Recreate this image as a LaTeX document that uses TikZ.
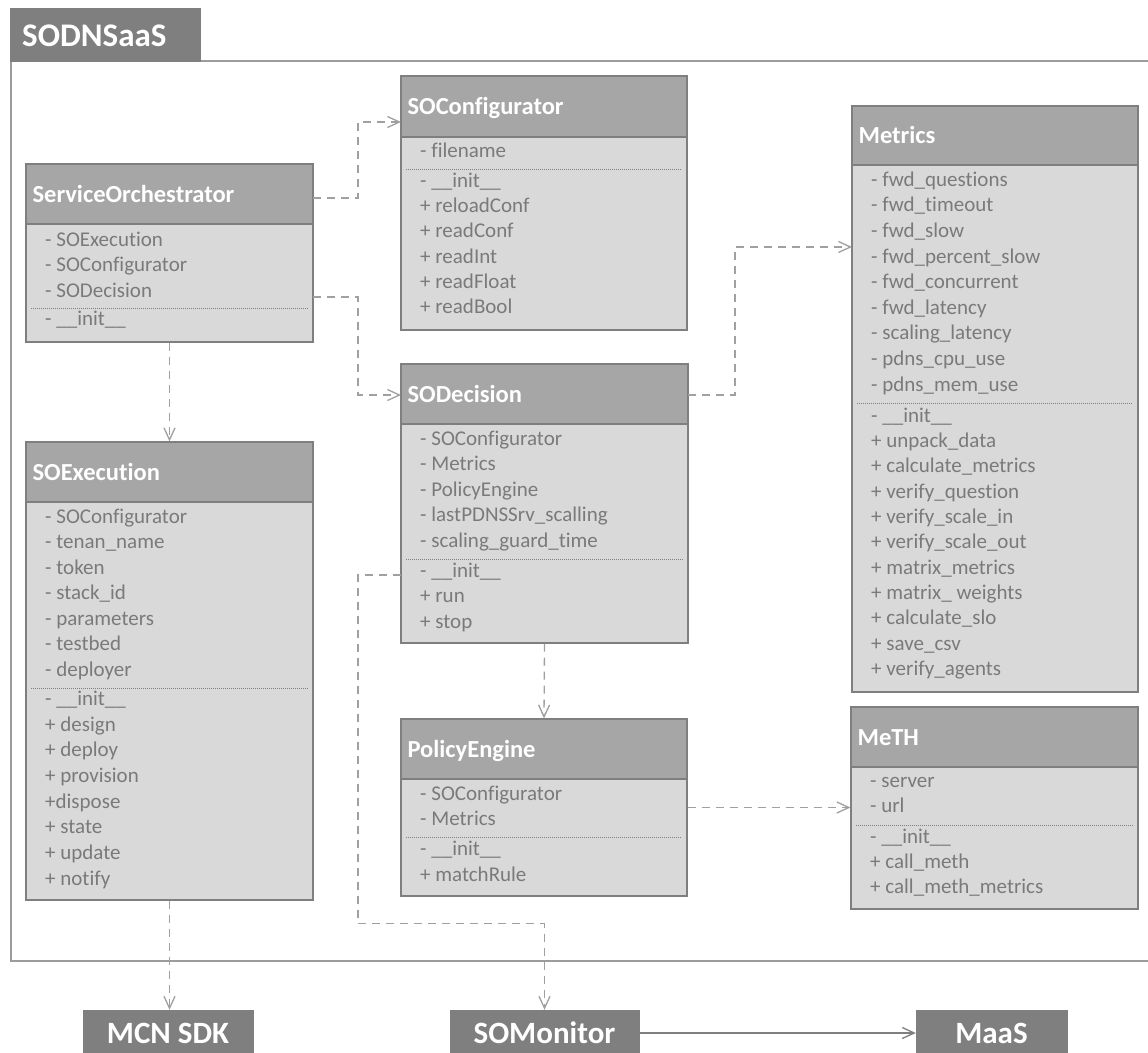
\documentclass[tikz,border=0pt]{standalone}
\usepackage{fontspec}
\setmainfont{Carlito}[Ligatures={NoCommon,NoContextual},Contextuals=NoAlternate]
\usetikzlibrary{arrows.meta,fit,calc}
\definecolor{hdrfill}{HTML}{A6A6A6}
\definecolor{bodyfill}{HTML}{D9D9D9}
\definecolor{boxline}{HTML}{7F7F7F}
\definecolor{txtgray}{HTML}{7A7A7A}
\definecolor{darkfill}{HTML}{7F7F7F}
\definecolor{framegray}{HTML}{9C9C9C}
\definecolor{depgray}{HTML}{A0A0A0}

% class box: name, x1, y1, x2, header bottom, y2, title
\newcommand\classbox[7]{%
  \node[boxbody, fit={(#2,#3) (#4,#6)}] (#1) {};
  \node[boxhead, fit={(#2,#3) (#4,#5)}] (#1-h) {};
  \node[headtext] (#1-t) at ($(#1-h.west)+(7,8)$) {#7};
}
% compartment separator: x1, x2, y
\newcommand\compsep[3]{\draw[sepline] (#1+5,#3) -- (#2-5,#3);}
% list of members: prefix, x, first y, step, items
\newcommand\members[5]{%
  \foreach \t [count=\i] in {#5}
    \node[item] (#1-\i) at ({#2},{#3+(\i-1)*#4}) {\t};
}

\begin{document}
\begin{tikzpicture}[x=1pt,y=-1pt,
  boxbody/.style={draw=boxline, fill=bodyfill, line width=1.2pt, inner sep=0pt},
  boxhead/.style={draw=boxline, fill=hdrfill, line width=1.2pt, inner sep=0pt},
  headtext/.style={text=white, font=\fontsize{24.5}{28}\selectfont\bfseries, inner sep=0pt, anchor=base west},
  item/.style={text=txtgray, font=\fontsize{21}{24}\selectfont, inner sep=0pt, anchor=mid west},
  sepline/.style={draw=boxline, line width=0.8pt, dash pattern=on 1pt off 1pt},
  dep/.style={draw=depgray, line width=1.3pt, dash pattern=on 8pt off 6pt,
    -{Straight Barb[length=12pt,width=11pt]}},
  flow/.style={draw=boxline, line width=1.3pt, -{Straight Barb[length=12pt,width=11pt]}},
  extbox/.style={fill=darkfill, draw=boxline, text=white, inner sep=0pt,
    font=\fontsize{31}{36}\selectfont\bfseries, text height=20pt, text depth=0pt,
    minimum height=46pt},
]
\path[use as bounding box] (0,0) rectangle (1148,1052);
\clip (0,0) rectangle (1148,1052);
\fill[white] (0,0) rectangle (1148,1052);

% package frame with tab
\draw[framegray, line width=1.5pt] (11,61) rectangle (1180,961);
\node[fill=darkfill, draw=boxline, line width=1pt, inner sep=0pt, fit={(10,8) (200,61)}] (tab) {};
\node[text=white, font=\fontsize{33}{38}\selectfont\bfseries, inner sep=0pt, anchor=base west]
  (tab-t) at (22,46) {SODNSaaS};

% ServiceOrchestrator
\classbox{so}{26}{164}{313}{224}{342}{ServiceOrchestrator}
\compsep{26}{313}{308}
\members{so-a}{45}{244}{25.5}{- SOExecution, - SOConfigurator, - SODecision}
\members{so-m}{45}{323}{25.5}{- \_\_init\_\_}

% SOConfigurator
\classbox{cfg}{401}{76}{687}{137}{330}{SOConfigurator}
\compsep{401}{687}{169}
\members{cfg-a}{420}{155}{25}{- filename}
\members{cfg-m}{420}{185}{25.3}{- \_\_init\_\_, + reloadConf, + readConf, + readInt, + readFloat, + readBool}

% Metrics
\classbox{met}{852}{106}{1138}{165}{692}{Metrics}
\compsep{852}{1138}{403}
\members{met-a}{871}{184}{25.6}{- fwd\_questions, - fwd\_timeout, - fwd\_slow, - fwd\_percent\_slow,
  - fwd\_concurrent, - fwd\_latency, - scaling\_latency, - pdns\_cpu\_use, - pdns\_mem\_use}
\members{met-m}{871}{420}{25.3}{- \_\_init\_\_, + unpack\_data, + calculate\_metrics, + verify\_question,
  + verify\_scale\_in, + verify\_scale\_out, + matrix\_metrics, + matrix\_ weights,
  + calculate\_slo, + save\_csv, + verify\_agents}

% SOExecution
\classbox{exe}{26}{442}{313}{502}{900}{SOExecution}
\compsep{26}{313}{688}
\members{exe-a}{45}{521}{25.5}{- SOConfigurator, - tenan\_name, - token, - stack\_id,
  - parameters, - testbed, - deployer}
\members{exe-m}{45}{703}{25.7}{- \_\_init\_\_, + design, + deploy, + provision, +dispose,
  + state, + update, + notify}

% SODecision
\classbox{dec}{401}{364}{688}{424}{643}{SODecision}
\compsep{401}{688}{559}
\members{dec-a}{420}{443}{25.5}{- SOConfigurator, - Metrics, - PolicyEngine,
  - lastPDNSSrv\_scalling, - scaling\_guard\_time}
\members{dec-m}{420}{575}{25.5}{- \_\_init\_\_, + run, + stop}

% PolicyEngine
\classbox{pe}{401}{719}{687}{779}{896}{PolicyEngine}
\compsep{401}{687}{837}
\members{pe-a}{420}{798}{25}{- SOConfigurator, - Metrics}
\members{pe-m}{420}{853}{26}{- \_\_init\_\_, + matchRule}

% MeTH
\classbox{meth}{851}{707}{1138}{767}{909}{MeTH}
\compsep{851}{1138}{825}
\members{meth-a}{870}{785}{25}{- server, - url}
\members{meth-m}{870}{841}{25}{- \_\_init\_\_, + call\_meth, + call\_meth\_metrics}

% external components
\node[extbox, minimum width=170pt] (mcn) at (168,1033) {MCN SDK};
\node[extbox, minimum width=189pt] (somon) at (544.5,1033) {SOMonitor};
\node[extbox, minimum width=151pt] (maas) at (991.5,1033) {MaaS};

% connector attachment points
\coordinate (so-p1) at (313,198);
\coordinate (so-p2) at (313,297);
\coordinate (cfg-in) at (401,122);
\coordinate (dec-in) at (401,395);
\coordinate (dec-out) at (688,395);
\coordinate (met-in) at (852,247);
\coordinate (dec-p) at (401,575);
\path (somon.north) ++(0,-86) coordinate (mon-bend);

% dependencies
\draw[dep] (so-p1) -- ++(45,0) |- (cfg-in);
\draw[dep] (so-p2) -- ++(45,0) |- (dec-in);
\draw[dep] (so.south) -- (exe.north);
\draw[dep] (dec-out) -- ++(47,0) |- (met-in);
\draw[dep] (dec.south) -- (pe.north);
\draw[dep] (dec-p) -- ++(-43,0) |- (mon-bend) -- (somon.north);
\draw[dep] (pe.east) -- (pe.east -| meth.west);
\draw[dep] (exe.south) -- (exe.south |- mcn.north);
\draw[flow] (somon.east) -- (somon.east -| maas.west);
\end{tikzpicture}
\end{document}
